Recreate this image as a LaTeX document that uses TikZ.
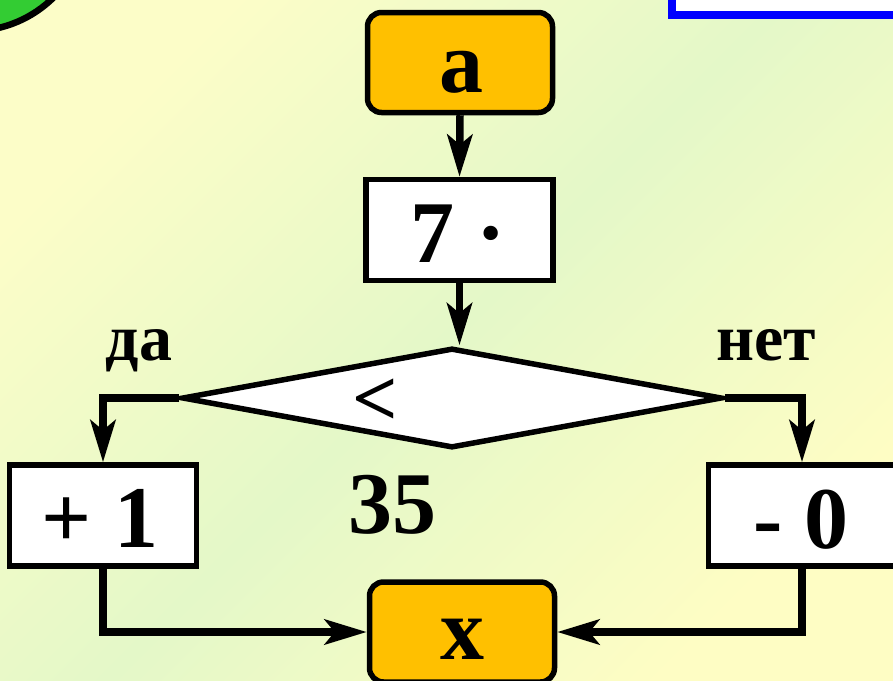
\documentclass[tikz,border=0pt]{standalone}
\usepackage{fontspec}
\setmainfont{Liberation Serif}
\usetikzlibrary{arrows.meta,shapes.geometric}
\definecolor{bgyellow}{RGB}{252,253,200}
\definecolor{bgyellowb}{RGB}{254,253,196}
\definecolor{bggreen}{RGB}{228,248,200}
\definecolor{boxorange}{RGB}{255,192,0}
\definecolor{circgreen}{RGB}{51,204,51}
\begin{document}
\begin{tikzpicture}[x=1pt,y=-1pt,
  term/.style={draw=black,line width=5.5pt,fill=boxorange,rounded corners=14pt,minimum width=185pt,minimum height=100pt,inner sep=0pt},
  proc/.style={draw=black,line width=5.5pt,fill=white,minimum width=187pt,minimum height=101pt,inner sep=0pt},
  big/.style={font=\bfseries\fontsize{88}{90}\selectfont,inner sep=0pt,anchor=base},
  lbl/.style={font=\bfseries\fontsize{66}{70}\selectfont,inner sep=0pt,anchor=base},
  conn/.style={line width=7.5pt,draw=black,line join=miter},
  arr/.style={conn,-{Stealth[length=42pt,width=25pt,inset=10pt]}}
]
\useasboundingbox (0,0) rectangle (893,680);
\clip (0,0) rectangle (893,680);
\shade[top color=bgyellow, bottom color=bgyellowb, middle color=bggreen, shading angle=45] (0,0) rectangle (893,680);
\draw[line width=6.5pt, fill=circgreen] (-28,-85) circle[radius=116];
\draw[line width=8pt, draw=blue, fill=white] (672,-20) rectangle (910,15);

\node[term] (a) at (460,62.5) {};
\node[big] (ta) at (461,92) {a};
\node[proc] (m) at (459.5,230) {};
\node[big] (tm) at (458,262) {7 ·};
\node[draw, line width=5.5pt, fill=white, diamond, minimum width=540pt, minimum height=100pt, inner sep=0pt] (d) at (452,398) {};
\node[font=\bfseries\fontsize{80}{84}\selectfont, inner sep=0pt] (lt) at (375,402) {<};
\node[big] (t35) at (392,533) {35};
\node[lbl] (yes) at (139,360) {да};
\node[lbl] (no) at (766,360) {нет};
\node[proc] (p) at (103,515.5) {};
\node[big] (tp) at (100,547) {+ 1};
\node[proc] (q) at (802,515.5) {};
\node[big] (tq) at (801,548) {- 0};
\node[term] (x) at (462,632) {};
\node[big] (tx) at (462,659) {x};

\draw[arr] (a.south) -- (m.north);
\draw[arr] (m.south) -- (m.south |- d.north);
\draw[arr] (d.west) -| (p.north);
\draw[arr] (d.east) -| (q.north);
\draw[arr] (p.south) |- (x.west);
\draw[arr] (q.south) |- (x.east);
\end{tikzpicture}
\end{document}
